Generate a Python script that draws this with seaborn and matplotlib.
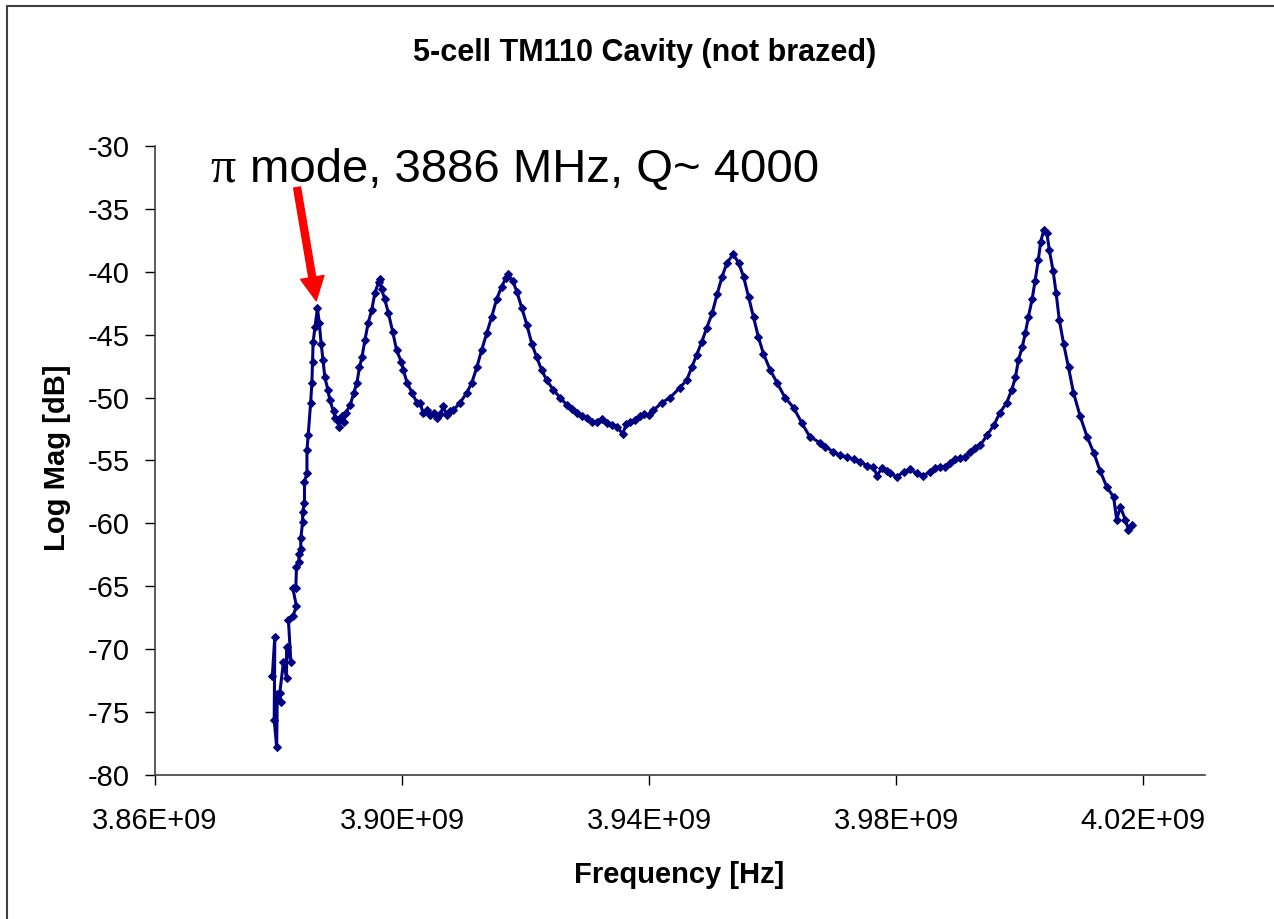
import numpy as np
import pandas as pd
import seaborn as sns
import matplotlib.pyplot as plt
from matplotlib.lines import Line2D
from matplotlib.ticker import FuncFormatter, FixedLocator, MultipleLocator

# Frequency sweep of the 5-cell TM110 cavity
# frequencies in MHz, magnitude in dB

# rising edge up to the pi mode
edge_mhz = [3879.0, 3879.4, 3879.3, 3879.7, 3879.8, 3880.4, 3880.2, 3880.8, 3881.3, 3881.3,
            3882.0, 3881.6, 3882.3, 3882.9, 3882.3, 3882.8, 3882.9, 3883.3, 3883.3, 3883.6,
            3883.6, 3883.9, 3883.9, 3884.2, 3884.2, 3884.6, 3884.6, 3884.8, 3885.2, 3885.4,
            3885.5, 3885.6, 3885.9]
edge_db = [-72.1, -69.0, -75.6, -77.8, -73.6, -74.2, -73.5, -71.0, -72.3, -69.8,
           -71.0, -67.7, -67.4, -66.6, -65.1, -65.1, -63.5, -63.1, -62.4, -62.0,
           -61.2, -59.9, -59.1, -58.4, -56.7, -56.0, -54.2, -53.0, -50.4, -48.8,
           -47.2, -45.6, -44.4]

# pi mode and the second/third modes
low_mhz = [3886.3, 3886.6, 3886.9, 3887.2, 3887.5, 3888.0, 3888.3, 3888.9, 3889.2, 3889.5,
           3889.8, 3890.2, 3890.6, 3890.9, 3891.6, 3892.2, 3892.7, 3893.1, 3893.5, 3894.0,
           3894.5, 3895.1, 3895.6, 3896.2, 3896.4, 3896.7, 3897.2, 3897.8, 3898.5, 3899.1,
           3899.9, 3900.2, 3900.8, 3901.6, 3902.4, 3902.9, 3903.4, 3904.0, 3904.5, 3905.1,
           3905.6, 3906.2, 3906.7, 3907.2, 3907.8, 3908.3, 3909.4, 3910.5, 3911.3, 3912.1,
           3912.9, 3913.7, 3914.5, 3915.3, 3916.1, 3916.8, 3917.2, 3917.9, 3918.6, 3919.4,
           3920.2, 3921.0, 3921.8, 3922.6, 3923.4, 3924.5, 3925.6, 3926.7, 3927.5, 3928.3,
           3929.1, 3929.9, 3930.7, 3931.5, 3932.3, 3933.1, 3934.0, 3934.8, 3935.7, 3936.3,
           3936.9, 3937.7, 3938.5, 3939.2, 3939.9]
low_db = [-42.9, -44.1, -45.7, -47.0, -48.4, -49.4, -50.2, -51.1, -51.6, -51.8,
          -52.3, -51.5, -51.9, -51.2, -50.6, -49.6, -48.8, -47.6, -46.8, -45.4,
          -44.1, -43.0, -41.7, -40.8, -40.6, -41.4, -42.2, -43.3, -44.8, -46.2,
          -47.2, -47.8, -48.8, -49.6, -50.4, -50.4, -51.2, -51.0, -51.4, -51.2,
          -51.6, -51.3, -50.7, -51.4, -51.1, -51.0, -50.4, -49.6, -48.8, -47.6,
          -46.2, -44.9, -43.6, -42.2, -41.2, -40.5, -40.2, -40.7, -41.6, -42.9,
          -44.2, -45.7, -46.8, -47.8, -48.6, -49.4, -50.0, -50.6, -50.9, -51.2,
          -51.5, -51.6, -51.9, -51.9, -51.7, -52.0, -52.2, -52.3, -52.9, -52.1,
          -51.9, -51.8, -51.5, -51.3, -51.4]

# fourth mode, broad valley and top mode
high_mhz = [3940.7, 3942.1, 3943.4, 3945.0, 3946.1, 3946.9, 3947.7, 3948.5, 3949.3, 3950.2,
            3951.0, 3951.8, 3952.6, 3953.6, 3954.5, 3955.3, 3956.1, 3956.9, 3957.7, 3958.5,
            3959.6, 3960.7, 3962.0, 3963.4, 3964.7, 3966.0, 3967.7, 3968.5, 3969.8, 3970.9,
            3972.0, 3973.1, 3974.2, 3975.2, 3976.3, 3976.9, 3977.7, 3978.5, 3979.0, 3980.1,
            3981.2, 3982.2, 3983.3, 3984.4, 3985.5, 3986.3, 3987.1, 3987.9, 3988.7, 3989.5,
            3990.4, 3991.2, 3992.0, 3992.8, 3993.6, 3994.7, 3995.8, 3996.8, 3997.9, 3998.7,
            3999.3, 3999.8, 4000.4, 4000.9, 4001.4, 4002.0, 4002.5, 4003.0, 4003.4, 4003.9,
            4004.4, 4004.8, 4005.4, 4005.9, 4006.4, 4007.1, 4007.9, 4008.7, 4009.8, 4010.9,
            4012.0, 4013.0, 4014.1, 4015.2, 4015.7, 4016.3, 4017.1, 4017.6, 4018.2]
high_db = [-51.0, -50.4, -50.0, -49.2, -48.6, -47.6, -46.6, -45.6, -44.5, -43.3,
           -41.8, -40.4, -39.3, -38.6, -39.3, -40.4, -42.0, -43.6, -45.2, -46.5,
           -47.8, -48.8, -50.0, -50.8, -52.0, -53.1, -53.6, -53.9, -54.3, -54.6,
           -54.7, -54.9, -55.1, -55.4, -55.5, -56.2, -55.6, -55.8, -56.0, -56.3,
           -55.9, -55.7, -56.0, -56.2, -55.9, -55.6, -55.5, -55.5, -55.2, -54.9,
           -54.8, -54.7, -54.3, -54.0, -53.8, -53.0, -52.2, -51.2, -50.4, -49.4,
           -48.4, -47.0, -46.0, -44.9, -43.6, -42.2, -40.7, -39.1, -37.6, -36.7,
           -36.9, -38.3, -39.9, -41.7, -43.8, -45.7, -47.6, -49.6, -51.5, -53.1,
           -54.4, -55.8, -57.1, -57.9, -59.7, -58.7, -59.7, -60.5, -60.1]

x_ticks = [3.86e9, 3.90e9, 3.94e9, 3.98e9, 4.02e9]

df = pd.DataFrame({
    "freq": np.array(edge_mhz + low_mhz + high_mhz) * 1e6,
    "mag": edge_db + low_db + high_db,
})

sns.set_theme(style="white")
plt.rcParams["font.family"] = ["Liberation Sans", "DejaVu Sans"]
plt.rcParams["axes.unicode_minus"] = False
plt.rcParams["text.color"] = "black"

fig = plt.figure(figsize=(12.74, 9.19), dpi=100)
ax = fig.add_axes([155 / 1274, 1 - 775 / 919, 1050 / 1274, 629 / 919])

sns.lineplot(data=df, x="freq", y="mag", sort=False, estimator=None, ax=ax,
             color="#000080", linewidth=2.2, marker="D", markersize=4.5,
             markeredgecolor="#000080")

ax.set_xlim(3.86e9, 4.03e9)
ax.set_ylim(-80, -30)
ax.xaxis.set_major_locator(FixedLocator(x_ticks))
ax.yaxis.set_major_locator(MultipleLocator(5))
ax.xaxis.set_major_formatter(FuncFormatter(lambda v, p: f"{v:.2E}"))
ax.set_xlabel("")
ax.set_ylabel("")
ax.tick_params(axis="both", labelsize=21, colors="black", length=7, width=1, direction="out")
ax.tick_params(axis="x", pad=16, bottom=True)
ax.tick_params(axis="y", pad=11, left=True)
for s in ["top", "right"]:
    ax.spines[s].set_visible(False)
for s in ["left", "bottom"]:
    ax.spines[s].set_color("#404040")
    ax.spines[s].set_linewidth(1.2)

# pi-mode annotation
ax.annotate("", xy=(3886.1e6, -42.3), xytext=(3883.0e6, -33.3),
            arrowprops=dict(facecolor="red", edgecolor="red", width=5,
                            headwidth=17, headlength=17, shrink=0))
fig.text(210 / 1274, 1 - 182 / 919, "π", fontsize=36, family="Liberation Serif",
         va="baseline", color="black")
fig.text(250 / 1274, 1 - 182 / 919, "mode, 3886 MHz, Q~ 4000", fontsize=34,
         va="baseline", color="black")

fig.text(645 / 1274, 1 - 53 / 919, "5-cell TM110 Cavity (not brazed)", fontsize=22,
         fontweight="bold", ha="center", va="center", color="black")
fig.text(679 / 1274, 1 - 875 / 919, "Frequency [Hz]", fontsize=21,
         fontweight="bold", ha="center", va="center", color="black")
fig.text(57 / 1274, 1 - 458 / 919, "Log Mag [dB]", fontsize=21, rotation=90,
         fontweight="bold", ha="center", va="center", color="black")

# chart frame (left and top edges)
fig.add_artist(Line2D([7 / 1274, 7 / 1274], [0, 1 - 6 / 919], color="#404040", lw=1.5))
fig.add_artist(Line2D([7 / 1274, 1], [1 - 6 / 919, 1 - 6 / 919], color="#404040", lw=1.5))

fig.savefig("out.png", dpi=100)
